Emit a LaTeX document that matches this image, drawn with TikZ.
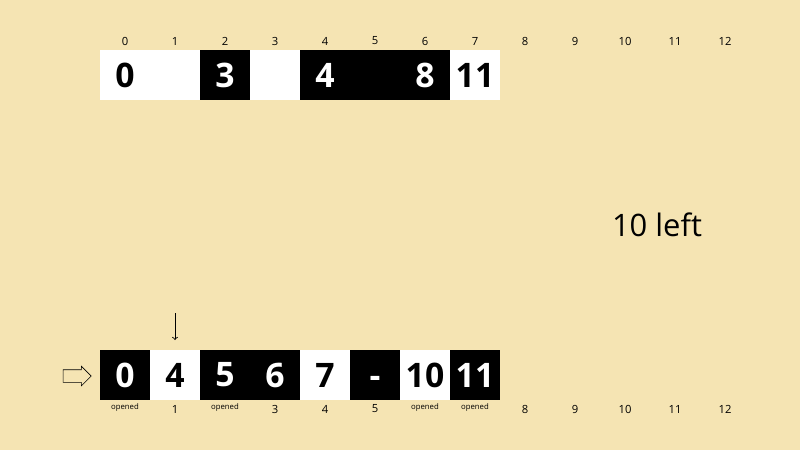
\documentclass[tikz,border=0pt]{standalone}
\usepackage{fontspec}
\setmainfont{Open Sans}
\usetikzlibrary{shapes.arrows}
\definecolor{paper}{HTML}{F5E4B3}
\begin{document}
\begin{tikzpicture}[x=0.025cm,y=-0.025cm,
  cell/.style={rectangle,minimum width=1.25cm,minimum height=1.25cm,inner sep=0pt,outer sep=0pt,font=\fontsize{24}{24}\selectfont\bfseries},
  wcell/.style={cell,fill=white,text=black},
  bcell/.style={cell,fill=black,text=white},
  idx/.style={inner sep=0pt,font=\fontsize{8}{8}\selectfont},
  tag/.style={inner sep=0pt,font=\fontsize{5.5}{6}\selectfont}]
  % draw background
  \fill[paper] (0,0) rectangle (800,450);
  % draw top row
  \foreach \i/\s/\v in {0/wcell/0,1/wcell/,2/bcell/3,3/wcell/,4/bcell/4,5/bcell/,6/bcell/8,7/wcell/11}
    \node at(125+50*\i,75)[\s](t\i){\v};
  % draw top indices
  \foreach \i in {0,...,12}
    \node at(125+50*\i,41)[idx](ti\i){\i};
  % draw "10 left" text
  \node at(657,225)[font=\fontsize{22}{22}\selectfont](left){10 left};
  % draw bottom row
  \foreach \i/\s/\v in {0/bcell/0,1/wcell/4,2/bcell/5,3/bcell/6,4/wcell/7,6/wcell/10,7/bcell/11}
    \node at(125+50*\i,375)[\s](b\i){\v};
  \node at(375,375)[bcell](b5){\smash{\raisebox{-0.3cm}{-}}};
  % draw bottom labels
  \foreach \i/\v in {1/1,3/3,4/4,5/5,8/8,9/9,10/10,11/11,12/12}
    \node at(125+50*\i,409)[idx](bi\i){\v};
  \foreach \i in {0,2,6,7}
    \node at(125+50*\i,407)[tag](bi\i){opened};
  % draw start arrow
  \node at(74,376)[single arrow,draw,fill=paper,line width=0.4pt,minimum height=0.7cm,minimum width=0.475cm,
    single arrow head extend=0.0875cm,inner xsep=0pt,inner ysep=0.15cm](start){};
  % draw pointer arrow
  \coordinate (ptr) at(175,313);
  \draw [-to,line width=0.6pt](ptr) -- ([yshift=0.25cm]b1.north);
\end{tikzpicture}
\end{document}
